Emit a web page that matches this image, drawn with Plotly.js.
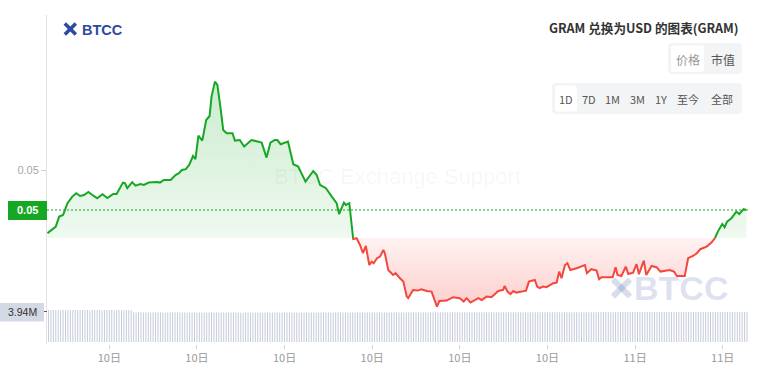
<!DOCTYPE html>
<html><head><meta charset="utf-8">
<script src="https://cdn.plot.ly/plotly-3.0.1.min.js"></script>
<style>html,body{margin:0;padding:0;background:#fff;}#chart{width:763px;height:382px;}</style>
</head><body><div id="chart"></div>
<script>
// ---- data ----
const dayYear = 2024, dayMonthIndex = 9, dayOfMonth = 10;   // the "10日" day
const minutes = [233,240,250,257,265,274,284,292,300,308,317,325,335,346,356,368,375,388,392,397,407,414,424,431,441,458,464,472,486,496,503,509,517,524,532,537,543,551,559,566,570,577,582,589,594,601,613,618,628,637,652,673,683,691,700,705,712,727,738,748,763,779,786,793,805,817,827,832,842,846,853,861,868,875,881,887,894,899,903,910,916,923,926,933,943,948,957,964,971,974,984,994,1001,1012,1022,1029,1033,1038,1053,1066,1080,1088,1094,1102,1111,1118,1125,1135,1145,1159,1169,1172,1178,1184,1190,1196,1207,1216,1222,1231,1234,1239,1244,1251,1258,1272,1279,1284,1289,1296,1301,1307,1320,1337,1341,1350,1361,1366,1371,1381,1394,1400,1404,1412,1421,1426,1436,1443,1448,1458,1463,1474,1484,1492,1501,1511,1520,1526,1539,1542,1549,1559,1567,1574,1587,1597,1604,1610,1619,1624,1629,1638,1648,1654,1663,1669];
const prices = [0.05084,0.05097,0.05117,0.05167,0.05175,0.05234,0.05267,0.05284,0.05270,0.05275,0.05290,0.05275,0.05259,0.05279,0.05260,0.05280,0.05280,0.05337,0.05334,0.05309,0.05339,0.05322,0.05330,0.05325,0.05337,0.05340,0.05337,0.05350,0.05350,0.05375,0.05384,0.05400,0.05404,0.05425,0.05470,0.05454,0.05572,0.05547,0.05650,0.05670,0.05767,0.05842,0.05825,0.05700,0.05600,0.05584,0.05584,0.05547,0.05550,0.05517,0.05550,0.05537,0.05462,0.05537,0.05550,0.05550,0.05529,0.05542,0.05429,0.05417,0.05342,0.05395,0.05375,0.05325,0.05309,0.05267,0.05234,0.05180,0.05237,0.05225,0.05234,0.05055,0.05059,0.05025,0.04984,0.05020,0.04925,0.04942,0.04934,0.04959,0.04967,0.05000,0.04984,0.04900,0.04875,0.04884,0.04859,0.04842,0.04767,0.04759,0.04800,0.04797,0.04804,0.04795,0.04792,0.04742,0.04717,0.04745,0.04747,0.04764,0.04759,0.04742,0.04759,0.04737,0.04750,0.04759,0.04750,0.04767,0.04764,0.04795,0.04800,0.04820,0.04792,0.04779,0.04795,0.04787,0.04792,0.04797,0.04842,0.04847,0.04850,0.04817,0.04809,0.04817,0.04814,0.04834,0.04837,0.04892,0.04859,0.04925,0.04934,0.04900,0.04909,0.04925,0.04884,0.04904,0.04897,0.04854,0.04864,0.04864,0.04864,0.04914,0.04875,0.04870,0.04917,0.04880,0.04887,0.04930,0.04879,0.04947,0.04875,0.04920,0.04914,0.04892,0.04897,0.04900,0.04892,0.04870,0.04870,0.04870,0.04959,0.04970,0.04984,0.05004,0.05017,0.05037,0.05059,0.05092,0.05130,0.05114,0.05142,0.05159,0.05192,0.05180,0.05204,0.05200];
const baselinePrice = 0.0506;
const currentPrice = 0.0520;
const currentPriceLabel = '0.05';
const priceTickVals = [0.054];
const priceTickText = ['0.05'];
const volStartMinute = 235, volStepMinutes = 5;
const volumes = [
3.94,3.93,3.94,3.94,3.93,3.92,3.94,3.93,3.94,3.94,3.93,3.94,3.92,3.93,3.94,3.94,3.93,3.92,3.94,3.93,3.94,3.93,3.92,3.93,3.94,3.93,3.94,3.92,3.93,3.94,3.93,3.92,3.94,3.93,3.92,
3.65,3.64,3.65,3.66,3.64,3.65,3.64,3.63,3.65,3.64,3.66,3.65,3.64,3.63,3.64,3.65,3.64,3.65,3.66,3.64,
3.64,3.63,3.64,3.65,3.64,3.63,3.64,3.62,3.63,3.64,3.63,3.62,3.63,3.64,3.63,3.62,3.63,3.62,3.63,3.64,
3.63,3.62,3.63,3.62,3.61,3.62,3.63,3.62,3.61,3.62,3.63,3.62,3.62,3.61,3.62,3.63,3.62,3.61,3.62,3.63,
3.62,3.63,3.62,3.63,3.64,3.63,3.62,3.63,3.64,3.63,3.62,3.63,3.64,3.63,3.64,3.63,3.62,3.63,3.64,3.63,
3.63,3.64,3.63,3.64,3.65,3.64,3.63,3.64,3.63,3.64,3.65,3.64,3.63,3.64,3.65,3.64,3.63,3.64,3.65,3.64,
3.64,3.65,3.64,3.63,3.64,3.65,3.64,3.65,3.64,3.63,3.64,3.65,3.64,3.65,3.66,3.65,3.64,3.65,3.64,3.65,
3.65,3.64,3.65,3.66,3.65,3.64,3.65,3.66,3.65,3.64,3.65,3.66,3.65,3.66,3.65,3.64,3.65,3.66,3.65,3.66,
3.66,3.65,3.66,3.65,3.66,3.67,3.66,3.65,3.66,3.67,3.66,3.65,3.66,3.67,3.66,3.67,3.66,3.65,3.66,3.67,
3.66,3.67,3.66,3.67,3.68,3.67,3.66,3.67,3.68,3.67,3.66,3.67,3.68,3.67,3.68,3.67,3.66,3.67,3.68,3.67,
3.67,3.68,3.67,3.66,3.67,3.68,3.67,3.68,3.67,3.66,3.67,3.68,3.67,3.68,3.69,3.68,3.67,3.68,3.67,3.68,
3.68,3.67,3.68,3.69,3.68,3.67,3.68,3.69,3.68,3.67,3.68,3.69,3.68,3.69,3.68,3.67,3.68,3.69,3.68,3.69,
3.69,3.68,3.69,3.70,3.69,3.68,3.69,3.70,3.69,3.68,3.69,3.70,3.69,3.70,3.69,3.68,3.69,3.70,3.69,3.70,
3.70,3.69,3.70,3.71,3.70,3.69,3.70,3.71,3.70,3.69,3.70,3.71,3.70];
const volumeMaxLabel = '3.94M';
const volumeMax = 3.94;
const titleText = 'GRAM 兑换为USD 的图表(GRAM)';
const typeButtons = ['价格', '市值'];
const rangeButtons = ['1D', '7D', '1M', '3M', '1Y', '至今', '全部'];
const watermarkText = 'BTCC Exchange Support';
const brandText = 'BTCC';

// ---- build ----
const GREEN = '#16a824', RED = '#f4473d', BRAND = '#2c4a9e';
const dayMs = Date.UTC(dayYear, dayMonthIndex, dayOfMonth);
const toT = m => dayMs + m * 60000;
const B = baselinePrice;
const X = [], Y = [];
for (let i = 0; i < prices.length; i++) {
  X.push(toT(minutes[i])); Y.push(prices[i]);
  if (i < prices.length - 1 && (prices[i] - B) * (prices[i + 1] - B) < 0) {
    const f = (B - prices[i]) / (prices[i + 1] - prices[i]);
    X.push(toT(minutes[i] + f * (minutes[i + 1] - minutes[i]))); Y.push(B);
  }
}
const maxP = Math.max(...prices), minP = Math.min(...prices);
const baseArr = X.map(() => B);
const volX = volumes.map((v, i) => toT(volStartMinute + i * volStepMinutes));

const traces = [
  {x: X, y: baseArr, mode: 'lines', line: {width: 0}, hoverinfo: 'skip', showlegend: false},
  {x: X, y: Y.map(v => Math.max(v, B)), mode: 'lines', line: {width: 0}, fill: 'tonexty',
   fillgradient: {type: 'vertical', start: B, stop: maxP, colorscale: [[0, 'rgba(22,168,36,0.07)'], [1, 'rgba(22,168,36,0.22)']]},
   hoverinfo: 'skip', showlegend: false},
  {x: X, y: baseArr, mode: 'lines', line: {width: 0}, hoverinfo: 'skip', showlegend: false},
  {x: X, y: Y.map(v => Math.min(v, B)), mode: 'lines', line: {width: 0}, fill: 'tonexty',
   fillgradient: {type: 'vertical', start: minP, stop: B, colorscale: [[0, 'rgba(244,71,61,0.26)'], [1, 'rgba(244,71,61,0.07)']]},
   hoverinfo: 'skip', showlegend: false},
  {x: volX, y: volumes, type: 'bar', yaxis: 'y2', marker: {color: '#c6ccdc', line: {width: 0}}, showlegend: false},
  {x: X, y: Y.map(v => v >= B ? v : null), mode: 'lines', line: {color: GREEN, width: 2}, connectgaps: false, showlegend: false},
  {x: X, y: Y.map(v => v <= B ? v : null), mode: 'lines', line: {color: RED, width: 2}, connectgaps: false, showlegend: false}
];

// pixel helpers for decorations
const L = 47, T = 15, W = 701, H = 329;
const px = x => (x - L) / W;
const py = y => (T + H - y) / H;
const P = (x, y) => px(x) + ',' + py(y);
function rrect(x0, y0, x1, y1, r, color) {
  return {type: 'path', xref: 'paper', yref: 'paper', fillcolor: color, line: {width: 0}, layer: 'above',
    path: `M ${P(x0 + r, y0)} L ${P(x1 - r, y0)} Q ${P(x1, y0)} ${P(x1, y0 + r)} L ${P(x1, y1 - r)} Q ${P(x1, y1)} ${P(x1 - r, y1)} L ${P(x0 + r, y1)} Q ${P(x0, y1)} ${P(x0, y1 - r)} L ${P(x0, y0 + r)} Q ${P(x0, y0)} ${P(x0 + r, y0)} Z`};
}
function rect(x0, y0, x1, y1, color) {
  return {type: 'rect', xref: 'paper', yref: 'paper', x0: px(x0), x1: px(x1), y0: py(y0), y1: py(y1), fillcolor: color, line: {width: 0}, layer: 'above'};
}
function xIcon(cx, cy, s, w, color, op) {
  return [
    {type: 'line', xref: 'paper', yref: 'paper', x0: px(cx - s), y0: py(cy - s), x1: px(cx + s), y1: py(cy + s), line: {color: color, width: w}, opacity: op, layer: 'below'},
    {type: 'line', xref: 'paper', yref: 'paper', x0: px(cx - s), y0: py(cy + s), x1: px(cx + s), y1: py(cy - s), line: {color: color, width: w}, opacity: op, layer: 'below'}
  ];
}
const CJK = '"Noto Sans CJK SC", "Noto Sans", sans-serif';
const shapes = [
  {type: 'line', xref: 'paper', x0: 0, x1: 1, yref: 'y', y0: currentPrice, y1: currentPrice, line: {color: GREEN, width: 1, dash: '2px,2px'}},
  rrect(668, 43, 742, 74, 4, '#f3f4f6'),
  rrect(671, 45.5, 704, 72, 3, '#ffffff'),
  rrect(552, 83, 742, 114, 4, '#f3f4f6'),
  rrect(555, 85.5, 577, 111.5, 3, '#ffffff'),
  rect(8, 201, 47, 220, GREEN),
  rect(0, 303, 44, 321.5, '#d3d9e5'),
  {type: 'line', xref: 'paper', yref: 'paper', x0: px(44), x1: px(47), y0: py(311.5), y1: py(311.5), line: {color: '#555', width: 1}},
  ...xIcon(70.3, 29, 5.5, 3.5, BRAND, 1),
  ...xIcon(621.5, 288, 8.5, 6, BRAND, 0.18)
];
const ann = (x, y, text, size, color, opts) => Object.assign({xref: 'paper', yref: 'paper', x: px(x), y: py(y), text: text, showarrow: false,
  xanchor: 'center', yanchor: 'middle', font: {size: size, color: color, family: CJK}}, opts || {});
const rangeX = [566, 588.5, 612.5, 637, 660.5, 688, 721.5];
const annotations = [
  ann(741, 28, '<b>' + titleText + '</b>', 12.6, '#333', {xanchor: 'right'}),
  ann(687.5, 59, typeButtons[0], 12, '#999'),
  ann(722.5, 59, typeButtons[1], 12, '#555'),
  ...rangeButtons.map((t, i) => ann(rangeX[i], 99.5, t, 11, '#555')),
  ann(102, 29.5, '<b>' + brandText + '</b>', 14.5, BRAND, {font: {size: 14.5, color: BRAND, family: 'Liberation Sans, Arial, sans-serif'}}),
  ann(681, 288, '<b>' + brandText + '</b>', 34, 'rgba(44,74,158,0.17)', {font: {size: 34, color: 'rgba(44,74,158,0.17)', family: 'Liberation Sans, Arial, sans-serif'}}),
  ann(398, 176, watermarkText, 22, 'rgba(0,0,0,0.045)', {font: {size: 22, color: 'rgba(0,0,0,0.045)', family: 'Liberation Sans, Arial, sans-serif'}}),
  ann(27.5, 210.5, '<b>' + currentPriceLabel + '</b>', 11, '#ffffff', {font: {size: 11, color: '#fff', family: 'Liberation Sans, Arial, sans-serif'}}),
  ann(22, 312.3, volumeMaxLabel, 10.5, '#333', {font: {size: 10.5, color: '#333', family: 'Liberation Sans, Arial, sans-serif'}})
];

const layout = {
  width: 763, height: 382,
  margin: {l: L, r: 763 - L - W, t: T, b: 382 - T - H},
  paper_bgcolor: '#fff', plot_bgcolor: '#fff',
  showlegend: false, bargap: 0.58,
  xaxis: {type: 'date', range: [toT(232), toT(1672)], tick0: dayMs, dtick: 3 * 3600000, tickformat: '%d日',
    showgrid: false, zeroline: false, showline: false, ticks: 'outside', ticklen: 4, tickcolor: '#d5d5d5',
    tickfont: {size: 11, color: '#9a9a9a', family: CJK}},
  yaxis: {range: [0.0453, 0.06175], domain: [0, 1], tickvals: priceTickVals, ticktext: priceTickText,
    showgrid: false, zeroline: false, showline: true, linecolor: '#e2e2e2', linewidth: 1,
    ticks: 'outside', ticklen: 5, tickcolor: '#cfcfcf', tickfont: {size: 11, color: '#a8a8a8', family: 'Liberation Sans, Arial, sans-serif'}},
  yaxis2: {domain: [2 / H, 34 / H], range: [0, volumeMax], showticklabels: false, showgrid: false, zeroline: false, showline: false, ticks: ''},
  shapes: shapes,
  annotations: annotations
};
Plotly.newPlot('chart', traces, layout, {displayModeBar: false, staticPlot: true});
</script></body></html>
